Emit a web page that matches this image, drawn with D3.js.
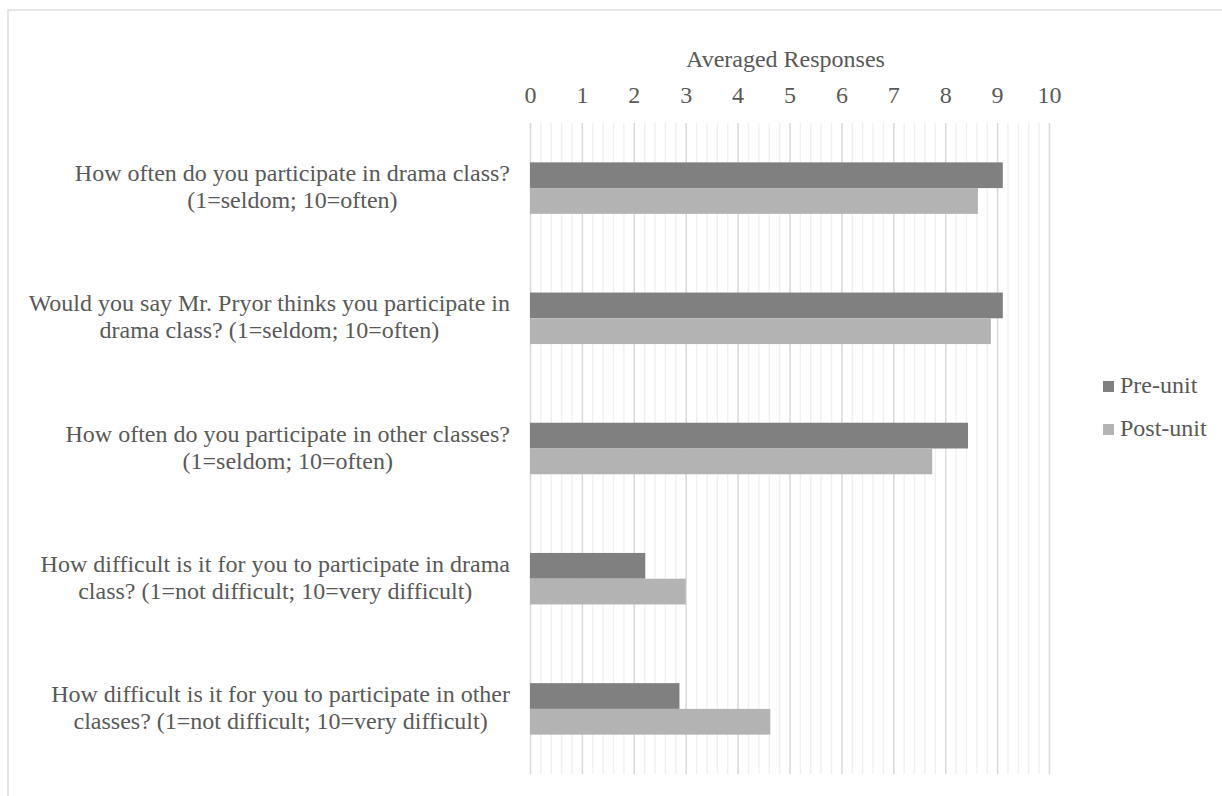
<!DOCTYPE html>
<html>
<head>
    <meta charset="UTF-8">
    <script src="https://d3js.org/d3.v7.min.js"></script>
    <style>
        body { margin: 0; background: #fff; }
        svg text { font-family: "Liberation Serif", "Times New Roman", serif; fill: #595959; }
    </style>
</head>
<body>
    <svg id="chart" width="1222" height="796"></svg>

    <script>
        // categories, each split into its two display lines
        const categories = [
            ["How often do you participate in drama class?", "(1=seldom; 10=often)"],
            ["Would you say Mr. Pryor thinks you participate in", "drama class? (1=seldom; 10=often)"],
            ["How often do you participate in other classes?", "(1=seldom; 10=often)"],
            ["How difficult is it for you to participate in drama", "class? (1=not difficult; 10=very difficult)"],
            ["How difficult is it for you to participate in other", "classes? (1=not difficult; 10=very difficult)"]
        ];
        const seriesNames = ["Pre-unit", "Post-unit"];
        const preUnit = [9.11, 9.11, 8.44, 2.22, 2.88];
        const postUnit = [8.63, 8.88, 7.75, 3.0, 4.63];
        const xTicks = [0, 1, 2, 3, 4, 5, 6, 7, 8, 9, 10];
        const axisTitle = "Averaged Responses";

        const colors = {"Pre-unit": "#808080", "Post-unit": "#b3b3b3"};
        const serif = '"Liberation Serif", "Times New Roman", serif';

        let svg = d3.select("#chart");

        // outer chart frame (runs off the right and bottom edges)
        svg.append("rect")
            .attr("x", 8).attr("y", 10)
            .attr("width", 1400).attr("height", 1000)
            .attr("fill", "none")
            .attr("stroke", "#d9d9d9")
            .attr("stroke-width", 1.3);

        let plotTop = 123, plotBottom = 774;

        let xScale = d3.scaleLinear().domain([0, 10]).range([530, 1049]);
        let yScale = d3.scaleBand().domain(d3.range(categories.length)).range([plotTop, plotBottom]);
        let groupH = 51.5;
        let ySub = d3.scaleBand().domain(seriesNames).range([0, groupH]);

        // minor gridlines every 0.2
        svg.append("g")
            .attr("transform", "translate(0," + plotTop + ")")
            .call(d3.axisBottom(xScale).tickValues(d3.range(0, 10.01, 0.2)).tickSize(plotBottom - plotTop).tickFormat(""))
            .call(g => g.select(".domain").remove())
            .call(g => g.selectAll("line").attr("stroke", "#f0f0f0").attr("stroke-width", 1.4));

        // major gridlines
        svg.append("g")
            .attr("transform", "translate(0," + plotTop + ")")
            .call(d3.axisBottom(xScale).tickValues(xTicks).tickSize(plotBottom - plotTop).tickFormat(""))
            .call(g => g.select(".domain").remove())
            .call(g => g.selectAll("line").attr("stroke", "#d9d9d9").attr("stroke-width", 1.4));

        // tick labels on top
        svg.append("g")
            .attr("transform", "translate(0,103)")
            .attr("font-family", serif)
            .call(d3.axisTop(xScale).tickValues(xTicks).tickSize(0).tickPadding(0).tickFormat(d3.format("d")))
            .call(g => g.select(".domain").remove())
            .call(g => g.selectAll("text")
                .attr("dy", 0)
                .style("font-size", "24px")
                .style("font-family", serif)
                .attr("fill", "#595959"));

        svg.append("text")
            .attr("x", (xScale(0) + xScale(10)) / 2 - 4)
            .attr("y", 67)
            .attr("text-anchor", "middle")
            .style("font-size", "24px")
            .text(axisTitle);

        // bars
        let rows = categories.map((c, i) => ({i: i, values: [
            {name: seriesNames[0], value: preUnit[i]},
            {name: seriesNames[1], value: postUnit[i]}
        ]}));

        let groups = svg.selectAll(".cat")
            .data(rows)
            .join("g")
            .attr("class", "cat")
            .attr("transform", d => "translate(0," + (yScale(d.i) + (yScale.bandwidth() - groupH) / 2) + ")");

        groups.selectAll("rect")
            .data(d => d.values)
            .join("rect")
            .attr("x", xScale(0))
            .attr("y", d => ySub(d.name))
            .attr("width", d => xScale(d.value) - xScale(0))
            .attr("height", ySub.bandwidth())
            .attr("fill", d => colors[d.name]);

        // category labels: block right-aligned, lines centred in block
        categories.forEach((lines, i) => {
            let cy = yScale(i) + yScale.bandwidth() / 2;
            let t = svg.append("text")
                .attr("text-anchor", "middle")
                .style("font-size", "24px");
            let spans = lines.map((line, j) => t.append("tspan")
                .attr("y", cy - 7 + j * 27)
                .text(line));
            let maxW = d3.max(spans, s => s.node().getComputedTextLength());
            spans.forEach(s => s.attr("x", 510 - maxW / 2));
        });

        // legend
        let legend = svg.append("g").attr("transform", "translate(1103,0)");
        seriesNames.forEach((name, j) => {
            let base = 393 + j * 43;
            legend.append("rect")
                .attr("x", 0).attr("y", base - 12)
                .attr("width", 11).attr("height", 11)
                .attr("fill", colors[name]);
            legend.append("text")
                .attr("x", 17).attr("y", base)
                .style("font-size", "24px")
                .text(name);
        });
    </script>
</body>
</html>
